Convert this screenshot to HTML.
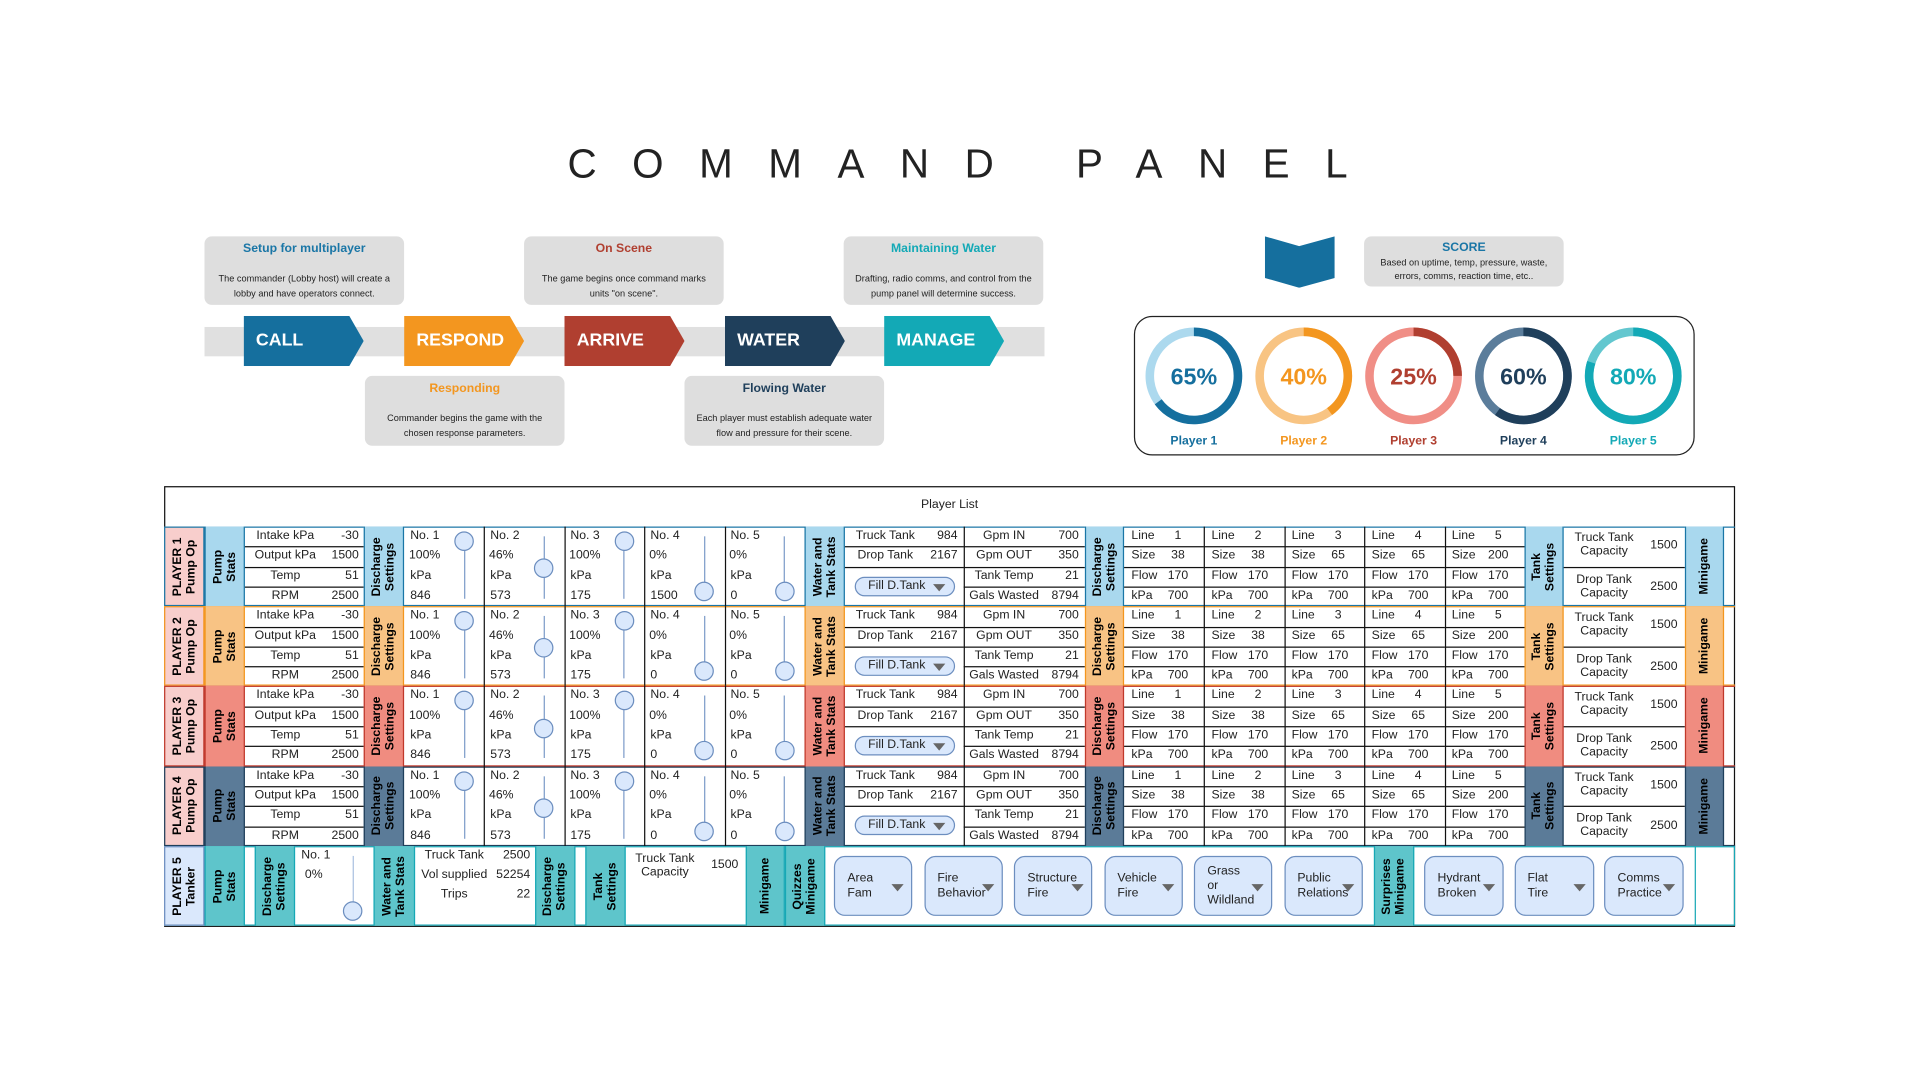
<!DOCTYPE html>
<html><head><meta charset="utf-8">
<style>
html,body{margin:0;padding:0;width:1920px;height:1080px;overflow:hidden;background:#fff;font-family:"Liberation Sans",Arial,sans-serif;}
#stage{position:absolute;left:0;top:0;width:1568px;height:882px;transform:scale(1.22449);transform-origin:0 0;}
.a{position:absolute;box-sizing:border-box;}
.vt{display:flex;align-items:center;justify-content:center;}
.vt span{transform:rotate(-90deg);white-space:nowrap;font-weight:bold;font-size:10px;line-height:11px;text-align:center;color:#000;}
.info{background:#dedede;border-radius:6px;text-align:center;color:#222;font-size:7.5px;line-height:12px;}
.info b{display:block;font-size:10px;margin-top:5px;margin-bottom:12px;}
.chev{color:#fff;font-weight:bold;font-size:14.5px;line-height:41px;padding-left:10px;clip-path:polygon(0 0,88% 0,100% 50%,88% 100%,0 100%);}
.t{font-size:10px;color:#222;white-space:nowrap;}
</style></head>
<body>
<div id="stage">
  <div class="a" style="left:282px;top:115px;width:1000px;text-align:center;font-size:33px;letter-spacing:29px;color:#222;padding-left:29px;">COMMAND PANEL</div>

  <div class="a" style="left:167px;top:267px;width:686px;height:24px;background:#e0e0e0;"></div>
  <div class="a chev" style="left:199px;top:258px;width:98px;height:41px;background:#156f9e;">CALL</div>
  <div class="a chev" style="left:330px;top:258px;width:98px;height:41px;background:#f3961f;">RESPOND</div>
  <div class="a chev" style="left:461px;top:258px;width:98px;height:41px;background:#b03f30;">ARRIVE</div>
  <div class="a chev" style="left:592px;top:258px;width:98px;height:41px;background:#1f3f5b;">WATER</div>
  <div class="a chev" style="left:722px;top:258px;width:98px;height:41px;background:#13a9b6;">MANAGE</div>

  <div class="a info" style="left:167px;top:193px;width:163px;height:56px;"><b style="color:#1a76a6">Setup for multiplayer</b>The commander (Lobby host) will create a<br>lobby and have operators connect.</div>
  <div class="a info" style="left:428px;top:193px;width:163px;height:56px;"><b style="color:#b03f30">On Scene</b>The game begins once command marks<br>units "on scene".</div>
  <div class="a info" style="left:689px;top:193px;width:163px;height:56px;"><b style="color:#13a9b6">Maintaining Water</b>Drafting, radio comms, and control from the<br>pump panel will determine success.</div>
  <div class="a info" style="left:298px;top:307px;width:163px;height:57px;"><b style="color:#f3961f">Responding</b>Commander begins the game with the<br>chosen response parameters.</div>
  <div class="a info" style="left:559px;top:307px;width:163px;height:57px;"><b style="color:#1f3f5b">Flowing Water</b>Each player must establish adequate water<br>flow and pressure for their scene.</div>

  <svg class="a" style="left:1033px;top:193px;" width="57" height="42"><polygon points="0,0 28,8 57,0 57,34 28,42 0,34" fill="#156f9e"/></svg>
  <div class="a info" style="left:1114px;top:193px;width:163px;height:41px;font-size:7.5px;line-height:11px;"><b style="color:#1a76a6;margin:4px 0 1px;font-size:10px">SCORE</b>Based on uptime, temp, pressure, waste,<br>errors, comms, reaction time, etc..</div>

  <div class="a" style="left:926px;top:258px;width:458px;height:114px;border:1px solid #222;border-radius:15px;"></div>
  <svg class="a" id="donuts" style="left:926px;top:258px;" width="458" height="114"></svg>

  <div class="a" style="left:134px;top:397px;width:1283px;height:360px;border:1px solid #111;"></div>
  <div class="a t" style="left:134px;top:407px;width:1283px;text-align:center;font-size:10px;">Player List</div>
  <div id="tbl"></div>
</div>

<script>
const scores = [65, 40, 25, 60, 80];
const playerNames = ["Player 1", "Player 2", "Player 3", "Player 4", "Player 5"];
const darkColors = ["#156f9e", "#f3961f", "#b03f30", "#1f3f5b", "#13a9b6"];
const lightColors = ["#acd9ee", "#f8c483", "#f08e86", "#5b7d9b", "#63c7cf"];

const sliderPct = [100, 46, 100, 0, 0];
const sliderKpaRow1 = [846, 573, 175, 1500, 0];
const sliderKpaOther = [846, 573, 175, 0, 0];
const lineSizes = [38, 38, 65, 65, 200];
const rowColors = ["#a9d8ee", "#f8c384", "#f08c80", "#5b7b98"];
const rowBorders = ["#1a76a6", "#f3961f", "#c0392b", "#1f3f5b"];
const quizzes = ["Area<br>Fam", "Fire<br>Behavior", "Structure<br>Fire", "Vehicle<br>Fire", "Grass<br>or<br>Wildland", "Public<br>Relations"];
const surprises = ["Hydrant<br>Broken", "Flat<br>Tire", "Comms<br>Practice"];

// donuts
const svg = document.getElementById('donuts');
const NS = 'http://www.w3.org/2000/svg';
function arcPath(cx, cy, r, f) {
  const a = 2 * Math.PI * f;
  const x = cx + r * Math.sin(a), y = cy - r * Math.cos(a);
  return `M${cx},${cy - r} A${r},${r} 0 ${f > 0.5 ? 1 : 0} 1 ${x},${y}`;
}
scores.forEach((s, i) => {
  const cx = 49 + i * 89.7, cy = 49, r = 36;
  const bg = document.createElementNS(NS, 'circle');
  bg.setAttribute('cx', cx); bg.setAttribute('cy', cy); bg.setAttribute('r', r);
  bg.setAttribute('fill', 'none'); bg.setAttribute('stroke', lightColors[i]); bg.setAttribute('stroke-width', 7);
  
  
  svg.appendChild(bg);
  const p = document.createElementNS(NS, 'path');
  p.setAttribute('d', arcPath(cx, cy, r, s / 100));
  p.setAttribute('fill', 'none'); p.setAttribute('stroke', darkColors[i]); p.setAttribute('stroke-width', 7);
  
  
  svg.appendChild(p);
  const t = document.createElementNS(NS, 'text');
  t.setAttribute('x', cx); t.setAttribute('y', cy + 7); t.setAttribute('text-anchor', 'middle');
  t.setAttribute('font-size', 19); t.setAttribute('font-weight', 'bold'); t.setAttribute('fill', darkColors[i]);
  t.setAttribute('font-family', 'Liberation Sans, sans-serif');
  t.textContent = s + '%';
  
  
  svg.appendChild(t);
  const l = document.createElementNS(NS, 'text');
  l.setAttribute('x', cx); l.setAttribute('y', 105); l.setAttribute('text-anchor', 'middle');
  l.setAttribute('font-size', 10); l.setAttribute('font-weight', 'bold'); l.setAttribute('fill', darkColors[i]);
  l.setAttribute('font-family', 'Liberation Sans, sans-serif');
  l.textContent = playerNames[i];
  
  
  svg.appendChild(l);
});

// table
const tbl = document.getElementById('tbl');
function box(name, x, y, w, h, css, html, inter) {
  const el = document.createElement('div');
  el.className = 'a';
  el.style.cssText = `left:${x}px;top:${y}px;width:${w}px;height:${h}px;` + (css || '');
  if (html) el.innerHTML = html;
  
  
  tbl.appendChild(el);
  return el;
}
function hdr(name, x, y, w, h, bg, text, bc) {
  const e = box(name, x, y, w, h, `background:${bg};border-left:1px solid ${bc};border-right:1px solid ${bc};`, `<span>${text}</span>`);
  e.classList.add('vt');
  return e;
}
function txt(name, x, y, text, align, w) {
  return box(name, x, y, w || 60, 16, `font-size:10px;line-height:16px;color:#222;white-space:nowrap;text-align:${align || 'left'};`, text);
}
function hline(x, y, w, c) { box('grid-line', x, y, w, 1, `background:${c || '#111'};`); }
function vline(x, y, h, c) { box('grid-line', x, y, 1, h, `background:${c || '#111'};`); }
function slider(x, top, pct, rng) {
  box('slider-track', x - 0.5, top + 8, 1, rng + 10, 'background:#7d9cc9;');
  const cy = top + 12 + (1 - pct / 100) * 41;
  box('slider-knob', x - 8, cy - 8, 16, 16, 'background:#dae8fc;border:1px solid #6c8ebf;border-radius:50%;', '', true);
}

for (let r = 0; r < 4; r++) {
  const top = 430 + r * 65.2, H = 65.2, sh = H / 4, bc = rowBorders[r], bg = rowColors[r];
  box('player-row-band', 134, top, 1283, H, `border-top:1px solid ${bc};border-bottom:1px solid ${bc};`);
  const lab = box('player-label', 134, top, 33, H, `background:#f8cecc;border:1px solid ${bc};`, `<span>PLAYER ${r + 1}<br>Pump Op</span>`);
  lab.classList.add('vt');
  hdr('pump-stats-header', 167, top, 33, H, bg, 'Pump<br>Stats', bc);
  const stl = ['Intake kPa', 'Output kPa', 'Temp', 'RPM'], stv = ['-30', '1500', '51', '2500'];
  for (let k = 0; k < 4; k++) {
    txt('stat-label', 200, top + k * sh, stl[k], 'center', 66);
    txt('stat-value', 262, top + k * sh, stv[k], 'right', 31);
    if (k) hline(200, top + k * sh, 97);
  }
  hdr('discharge-settings-header', 297, top, 33, H, bg, 'Discharge<br>Settings', bc);
  for (let j = 0; j < 5; j++) {
    const x = 330 + j * 65.4;
    vline(x + 65.4, top, H);
    const kpa = r === 0 ? sliderKpaRow1[j] : sliderKpaOther[j];
    txt('discharge-number', x + 5, top, 'No. ' + (j + 1));
    txt('discharge-percent', x + 4, top + sh, sliderPct[j] + '%');
    txt('discharge-kpa-label', x + 5, top + 2 * sh, 'kPa');
    txt('discharge-kpa-value', x + 5, top + 3 * sh, String(kpa));
    slider(x + 49, top, sliderPct[j], 41);
  }
  hdr('water-tank-stats-header', 657, top, 33, H, bg, 'Water and<br>Tank Stats', bc);
  txt('truck-tank-label', 690, top, 'Truck Tank', 'center', 66);
  txt('truck-tank-value', 750, top, '984', 'right', 32);
  txt('drop-tank-label', 690, top + sh, 'Drop Tank', 'center', 66);
  txt('drop-tank-value', 750, top + sh, '2167', 'right', 32);
  hline(690, top + sh, 97); hline(690, top + 2 * sh, 97); vline(787, top, H);
  box('fill-drop-tank-dropdown', 698, top + 2 * sh + 8, 82, 16, 'background:#dae8fc;border:1px solid #6c8ebf;border-radius:8px;font-size:10px;line-height:14px;color:#222;padding-left:10px;', 'Fill D.Tank<span style="position:absolute;right:7px;top:5px;border-left:5px solid transparent;border-right:5px solid transparent;border-top:6px solid #666;"></span>', true);
  const gl = ['Gpm IN', 'Gpm OUT', 'Tank Temp', 'Gals Wasted'], gv = ['700', '350', '21', '8794'];
  for (let k = 0; k < 4; k++) {
    txt('gpm-label', 787, top + k * sh, gl[k], 'center', 66);
    txt('gpm-value', 848, top + k * sh, gv[k], 'right', 33);
    if (k) hline(787, top + k * sh, 99);
  }
  hdr('line-discharge-header', 886, top, 32, H, bg, 'Discharge<br>Settings', bc);
  for (let j = 0; j < 5; j++) {
    const x = 918 + j * 65.4;
    const ll = ['Line', 'Size', 'Flow', 'kPa'], lv = [String(j + 1), String(lineSizes[j]), '170', '700'];
    for (let k = 0; k < 4; k++) {
      txt('line-label', x + 6, top + k * sh, ll[k]);
      txt('line-value', x + 30, top + k * sh, lv[k], 'center', 28);
      if (k) hline(x, top + k * sh, 65.4);
    }
    if (j < 4) vline(x + 65.4, top, H);
  }
  hdr('tank-settings-header', 1245, top, 32, H, bg, 'Tank<br>Settings', bc);
  box('truck-tank-capacity', 1277, top, 99, H / 2, 'font-size:10px;line-height:11px;color:#222;', '<div style="position:absolute;left:0;width:66px;top:4px;text-align:center">Truck Tank<br>Capacity</div><div style="position:absolute;right:6px;top:10px">1500</div>');
  box('drop-tank-capacity', 1277, top + H / 2, 99, H / 2, 'font-size:10px;line-height:11px;color:#222;border-top:1px solid #111;', '<div style="position:absolute;left:0;width:66px;top:4px;text-align:center">Drop Tank<br>Capacity</div><div style="position:absolute;right:6px;top:10px">2500</div>');
  hdr('minigame-header', 1376, top, 32, H, bg, 'Minigame', bc);
}

// row 5
{
  const top = 691, H = 65, bc = '#17a8b5', bg = '#5ec5cb';
  box('player5-row-band', 134, top, 1283, H, `border-top:1px solid ${bc};border-bottom:1px solid ${bc};border-right:1px solid ${bc};`);
  const lab = box('player-label', 134, top, 33, H, 'background:#dae8fc;border:1px solid #6c8ebf;', '<span>PLAYER 5<br>Tanker</span>');
  lab.classList.add('vt');
  hdr('pump-stats-header', 167, top, 33, H, bg, 'Pump<br>Stats', bc);
  hdr('discharge-settings-header', 208, top, 33, H, bg, 'Discharge<br>Settings', bc);
  txt('discharge-number', 246, top, 'No. 1');
  txt('discharge-percent', 249, top + 16, '0%');
  box('slider-track', 288, top + 8, 1, 50, 'background:#a9c0e0;');
  box('slider-knob', 280, top + 45, 16, 16, 'background:#dae8fc;border:1px solid #6c8ebf;border-radius:50%;', '', true);
  hdr('water-tank-stats-header', 305, top, 34, H, bg, 'Water and<br>Tank Stats', bc);
  const tl = ['Truck Tank', 'Vol supplied', 'Trips'], tv = ['2500', '52254', '22'];
  for (let k = 0; k < 3; k++) {
    txt('tanker-stat-label', 339, top + k * 16, tl[k], 'center', 64);
    txt('tanker-stat-value', 398, top + k * 16, tv[k], 'right', 35);
  }
  hdr('discharge-settings-header', 437, top, 33, H, bg, 'Discharge<br>Settings', bc);
  hdr('tank-settings-header', 478, top, 33, H, bg, 'Tank<br>Settings', bc);
  box('truck-tank-capacity', 511, top, 98, 32, 'font-size:10px;line-height:11px;color:#222;', '<div style="position:absolute;left:0;width:64px;top:5px;text-align:center">Truck Tank<br>Capacity</div><div style="position:absolute;right:6px;top:10px">1500</div>');
  hdr('minigame-header', 609, top, 32, H, bg, 'Minigame', bc);
  hdr('quizzes-minigame-header', 641, top, 33, H, bg, 'Quizzes<br>Minigame', bc);
  quizzes.forEach((q, i) => {
    const x = 681 + i * 73.5;
    box('quiz-dropdown', x, top + 8, 64, 49, 'background:#dae8fc;border:1px solid #6c8ebf;border-radius:9px;font-size:10px;line-height:12px;color:#222;display:flex;align-items:center;padding-left:10px;', q + '<span style="position:absolute;right:6px;top:22px;border-left:5px solid transparent;border-right:5px solid transparent;border-top:6px solid #666;"></span>', true);
  });
  hdr('surprises-minigame-header', 1122, top, 33, H, bg, 'Surprises<br>Minigame', bc);
  surprises.forEach((q, i) => {
    const x = 1163 + i * 73.5;
    box('surprise-dropdown', x, top + 8, 65, 49, 'background:#dae8fc;border:1px solid #6c8ebf;border-radius:9px;font-size:10px;line-height:12px;color:#222;display:flex;align-items:center;padding-left:10px;', q + '<span style="position:absolute;right:6px;top:22px;border-left:5px solid transparent;border-right:5px solid transparent;border-top:6px solid #666;"></span>', true);
  });
  vline(1384, top, H, bc);
}
</script>
</body></html>
